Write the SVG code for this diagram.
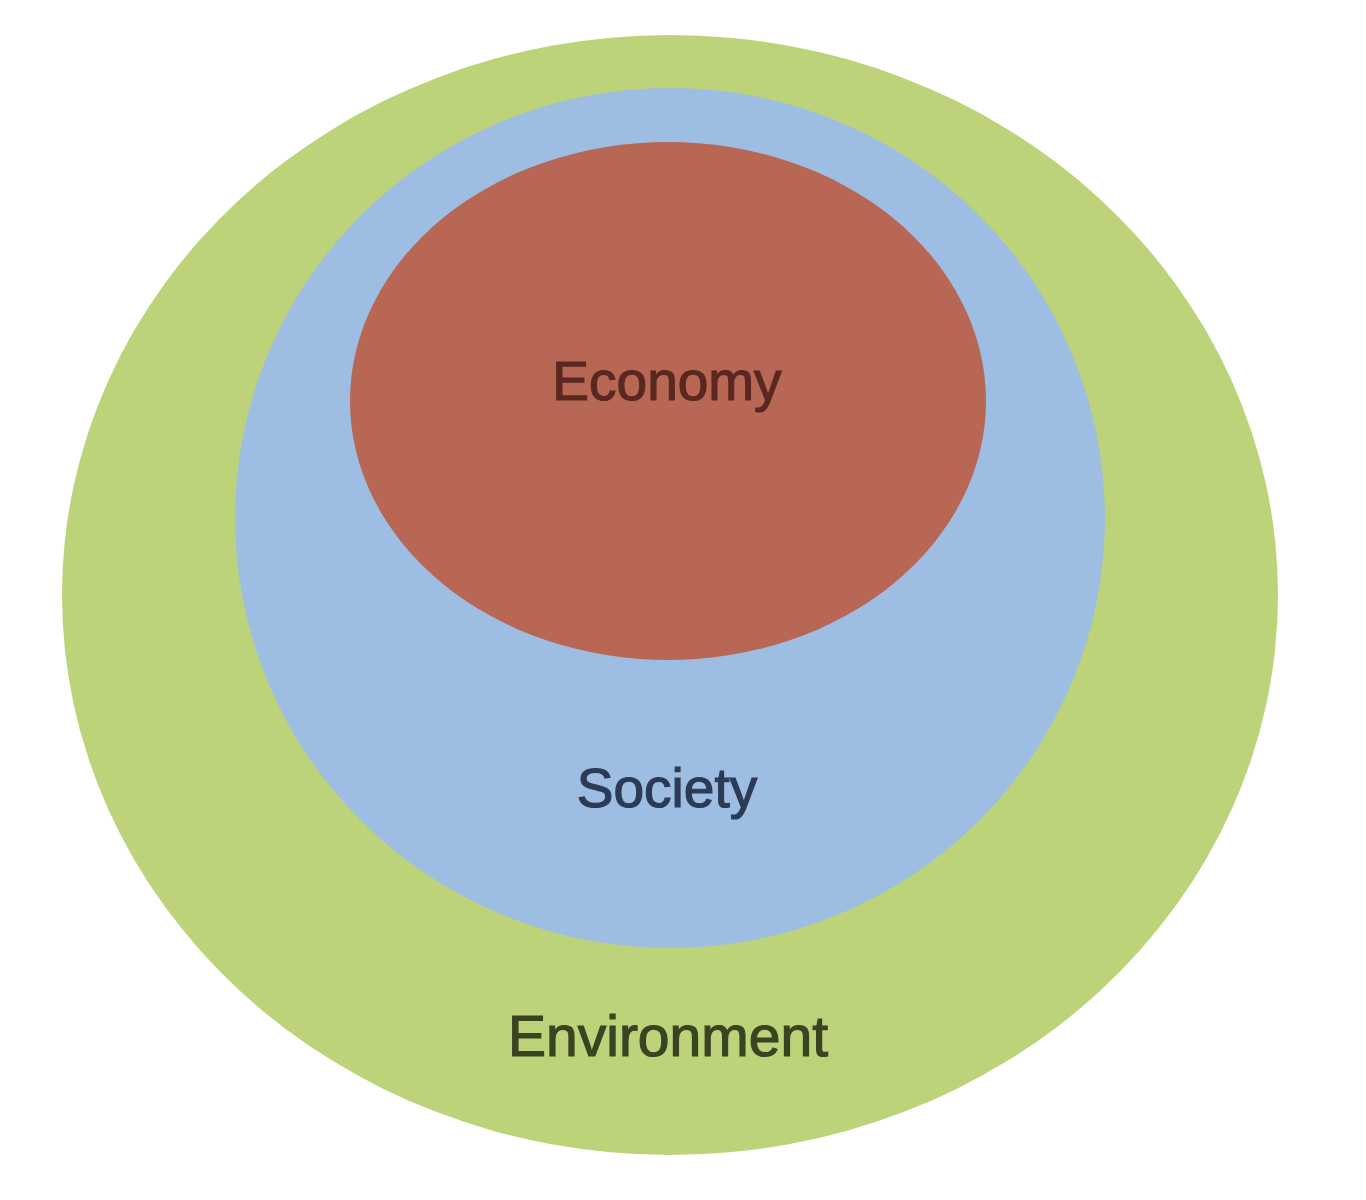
<svg xmlns="http://www.w3.org/2000/svg" width="1366" height="1200" viewBox="0 0 1366 1200">
<style>
.lbl{font-family:"Liberation Sans","Open Sans",Arial,sans-serif;font-size:55px;text-anchor:middle;stroke-width:1.2px}
</style>
<rect x="0" y="0" width="1366" height="1200" fill="#ffffff"/>
<g id="environment">
<ellipse cx="670" cy="595" rx="608" ry="560" fill="#bdd37a"/>
<text class="lbl" x="668" y="1056" fill="#3a4422" stroke="#3a4422" style="font-size:57px">Environment</text>
</g>
<g id="society">
<ellipse cx="670" cy="518" rx="435" ry="430" fill="#9ebde3"/>
<text class="lbl" x="667" y="807" fill="#2c3b55" stroke="#2c3b55">Society</text>
</g>
<g id="economy">
<ellipse cx="668" cy="401" rx="318" ry="259" fill="#b96755"/>
<text class="lbl" x="667" y="400" fill="#5a2820" stroke="#5a2820">Economy</text>
</g>
<g id="connectors"></g>
</svg>
